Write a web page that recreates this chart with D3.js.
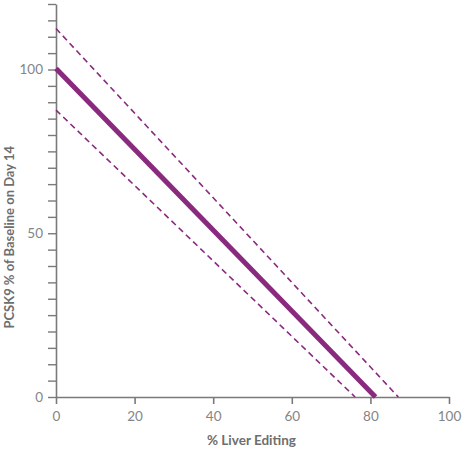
<!DOCTYPE html>
<html><head><meta charset="utf-8">
<script src="https://cdn.jsdelivr.net/npm/d3@7"></script>
<style>body{margin:0;background:#fff}svg{display:block}</style>
</head><body>
<script>
const xTicks = [0, 20, 40, 60, 80, 100];
const yTickLabels = [0, 50, 100];
const yMinorTicks = [0,5,10,15,20,25,30,35,40,45,50,55,60,65,70,75,80,85,90,95,100,105,110,115,120];
const fitLine = [{x: 0, y: 100.3}, {x: 81.3, y: 0}];
const upperBound = [{x: 0, y: 112.5}, {x: 87.1, y: 0}];
const lowerBound = [{x: 0, y: 87.6}, {x: 76.1, y: 0}];

const W = 467, H = 453;
const svg = d3.select("body").append("svg").attr("width", W).attr("height", H);
const x = d3.scaleLinear().domain([0, 100]).range([56, 449]);
const y = d3.scaleLinear().domain([0, 120]).range([397, 4]);
const axisColor = "#7a7a7a", textColor = "#858585", purple = "#8a2a7e";
const font = "Lato, 'Open Sans', sans-serif";

// x axis
const gx = svg.append("g").attr("transform", `translate(0,${y(0)})`)
  .call(d3.axisBottom(x).tickValues(xTicks).tickSize(7).tickPadding(7).tickSizeOuter(0));
gx.select(".domain").attr("stroke", axisColor).attr("stroke-width", 1.6);
gx.selectAll(".tick line").attr("stroke", axisColor).attr("stroke-width", 1.6);
gx.selectAll(".tick text").attr("fill", textColor).style("font-family", font).style("font-size", "13.5px");

// y axis
const gy = svg.append("g").attr("transform", `translate(${x(0)},0)`)
  .call(d3.axisLeft(y).tickValues(yMinorTicks).tickSize(8).tickPadding(5).tickSizeOuter(0)
    .tickFormat(d => yTickLabels.includes(d) ? d : ""));
gy.select(".domain").attr("stroke", axisColor).attr("stroke-width", 1.6);
gy.selectAll(".tick line").attr("stroke", axisColor).attr("stroke-width", 1.4);
gy.selectAll(".tick text").attr("fill", textColor).style("font-family", font).style("font-size", "13.5px");

const line = d3.line().x(d => x(d.x)).y(d => y(d.y));
svg.append("path").datum(upperBound).attr("d", line).attr("fill", "none")
  .attr("stroke", purple).attr("stroke-width", 1.6).attr("stroke-dasharray", "6,4");
svg.append("path").datum(lowerBound).attr("d", line).attr("fill", "none")
  .attr("stroke", purple).attr("stroke-width", 1.6).attr("stroke-dasharray", "6,4");
svg.append("path").datum(fitLine).attr("d", line).attr("fill", "none")
  .attr("stroke", purple).attr("stroke-width", 5);

svg.append("text").attr("x", (x(0)+x(100))/2 - 1).attr("y", 445).attr("text-anchor", "middle")
  .attr("fill", "#6e6e6e").style("font-family", font).style("font-size", "13.5px").style("font-weight", "bold")
  .text("% Liver Editing");
svg.append("text").attr("transform", `translate(14,${y(50)+4}) rotate(-90)`).attr("text-anchor", "middle")
  .attr("fill", "#6e6e6e").style("font-family", font).style("font-size", "13px").style("font-weight", "bold")
  .text("PCSK9 % of Baseline on Day 14");
</script>
</body></html>
